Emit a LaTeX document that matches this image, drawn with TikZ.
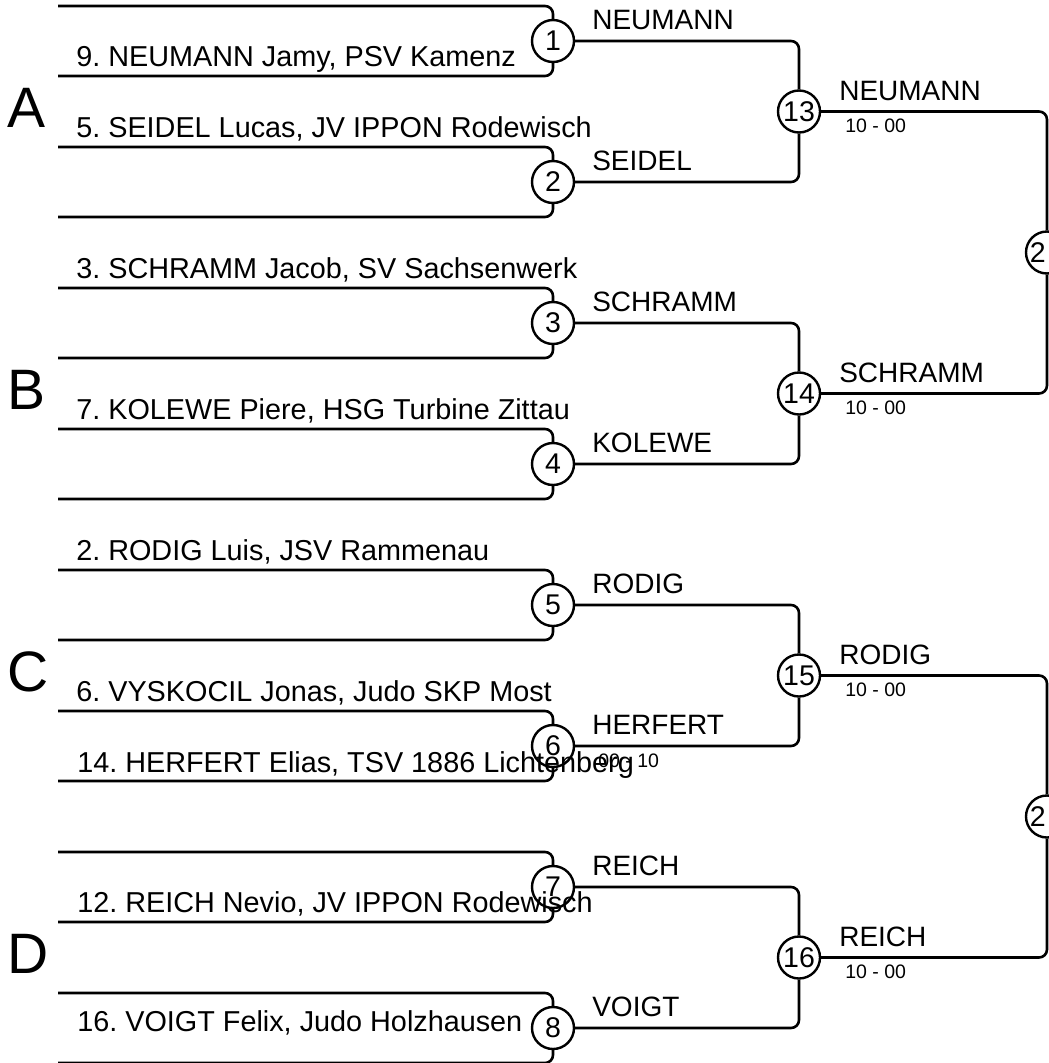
\documentclass[tikz,border=0pt]{standalone}
\usepackage{fontspec}
\setmainfont{Liberation Sans}
\begin{document}
\frenchspacing
\begin{tikzpicture}[x=1pt,y=-1pt,
  line width=2.6pt,
  br/.style={draw=black,line width=2.6pt,rounded corners=8pt},
  circ/.style={circle,draw=black,line width=2.4pt,minimum size=42pt,inner sep=0pt,font=\fontsize{28.5}{30}\selectfont},
  player/.style={anchor=base west,inner sep=0pt,font=\fontsize{28.8}{30}\selectfont},
  winner/.style={anchor=base west,inner sep=0pt,font=\fontsize{28}{30}\selectfont},
  score/.style={anchor=base west,inner sep=0pt,font=\fontsize{19.5}{22}\selectfont},
  pool/.style={anchor=base west,inner sep=0pt,font=\fontsize{57}{60}\selectfont}]
\clip (0,0) rectangle (1049,1063);
% round 1 circles
\foreach \i in {1,...,8} {
  \pgfmathsetmacro{\cy}{41+141*(\i-1)}
  \node[circ] (m\i) at (553,\cy) {\i};
}
% round 2 circles
\node[circ] (q13) at (799,111.5) {13};
\node[circ] (q14) at (799,393.5) {14};
\node[circ] (q15) at (799,675.5) {15};
\node[circ] (q16) at (799,957.5) {16};
% round 3 circles
\node[circ] (f1) at (1047,252.5) {};
\node[circ] (f2) at (1047,816.5) {};
\node[anchor=east,inner sep=0pt,font=\fontsize{28.5}{30}\selectfont] (f1t) at (1047,252.5) {2};
\node[anchor=east,inner sep=0pt,font=\fontsize{28.5}{30}\selectfont] (f2t) at (1047,816.5) {2};
% round 1 brackets
\foreach \i in {1,...,8} {
  \pgfmathsetmacro{\ty}{6+141*(\i-1)}
  \pgfmathsetmacro{\by}{76+141*(\i-1)}
  \coordinate (t\i) at (58,\ty);
  \coordinate (b\i) at (58,\by);
  \draw[br] (t\i) -| (m\i.north);
  \draw[br] (b\i) -| (m\i.south);
}
% round 2 brackets
\draw[br] (m1.east) -| (q13.north);
\draw[br] (m2.east) -| (q13.south);
\draw[br] (m3.east) -| (q14.north);
\draw[br] (m4.east) -| (q14.south);
\draw[br] (m5.east) -| (q15.north);
\draw[br] (m6.east) -| (q15.south);
\draw[br] (m7.east) -| (q16.north);
\draw[br] (m8.east) -| (q16.south);
% round 3 brackets
\draw[br] (q13.east) -| (f1.north);
\draw[br] (q14.east) -| (f1.south);
\draw[br] (q15.east) -| (f2.north);
\draw[br] (q16.east) -| (f2.south);
% pool letters
\node[pool] (pA) at (6,127) {A};
\node[pool] (pB) at (6,409.5) {B};
\node[pool] (pC) at (6,691) {C};
\node[pool] (pD) at (6,973.5) {D};
% players
\node[player] (p1) at (75,66) {9. NEUMANN Jamy, PSV Kamenz};
\node[player] (p2) at (75,137) {5. SEIDEL Lucas, JV IPPON Rodewisch};
\node[player] (p3) at (75,278) {3. SCHRAMM Jacob, SV Sachsenwerk};
\node[player] (p4) at (75,419) {7. KOLEWE Piere, HSG Turbine Zittau};
\node[player] (p5) at (75,560) {2. RODIG Luis, JSV Rammenau};
\node[player] (p6) at (75,701) {6. VYSKOCIL Jonas, Judo SKP Most};
\node[player] (p7) at (76,772) {14. HERFERT Elias, TSV 1886 Lichtenberg};
\node[player] (p8) at (76,912) {12. REICH Nevio, JV IPPON Rodewisch};
\node[player] (p9) at (76,1031) {16. VOIGT Felix, Judo Holzhausen};
% round 1 winners
\node[winner] (w1) at (591,29) {NEUMANN};
\node[winner] (w2) at (591,170) {SEIDEL};
\node[winner] (w3) at (591,311) {SCHRAMM};
\node[winner] (w4) at (591,452) {KOLEWE};
\node[winner] (w5) at (591,593) {RODIG};
\node[winner] (w6) at (591,734) {HERFERT};
\node[score] (s6) at (597,767) {00 - 10};
\node[winner] (w7) at (591,875) {REICH};
\node[winner] (w8) at (591,1016) {VOIGT};
% round 2 winners
\node[winner] (v13) at (838,100.5) {NEUMANN};
\node[score] (s13) at (844,132) {10 - 00};
\node[winner] (v14) at (838,382.5) {SCHRAMM};
\node[score] (s14) at (844,414) {10 - 00};
\node[winner] (v15) at (838,664.5) {RODIG};
\node[score] (s15) at (844,696) {10 - 00};
\node[winner] (v16) at (838,946.5) {REICH};
\node[score] (s16) at (844,978) {10 - 00};
\end{tikzpicture}
\end{document}
